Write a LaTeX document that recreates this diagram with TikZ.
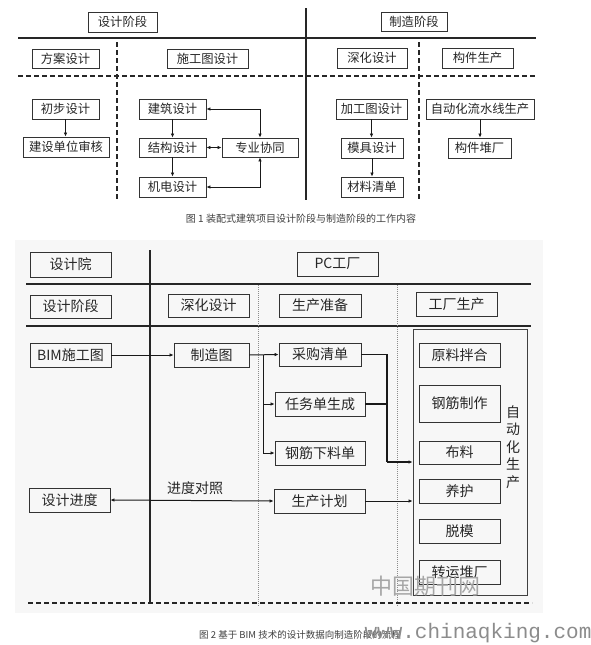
\documentclass[tikz,border=0pt]{standalone}
\usepackage{fontspec}
\setmainfont{Noto Sans CJK SC}
\newfontfamily\wmmono{Liberation Mono}
\usetikzlibrary{arrows.meta}
\newcommand{\bx}[7][]{\node[box,#1,minimum width={(#4-#2)*1pt},minimum height={(#5-#3)*1pt}] (#7) at ({(#2+#4)/2},{(#3+#5)/2}) {#6};}
\begin{document}
\begin{tikzpicture}[x=1pt,y=-1pt,
  box/.style={draw=black!80,line width=0.9pt,inner sep=0pt,text=black!85,font=\fontsize{12.3}{14}\selectfont},
  boxb/.style={font=\fontsize{14}{16}\selectfont},
  sline/.style={line width=1.3pt,black!85},
  dline/.style={line width=1.3pt,black!85,dash pattern=on 5pt off 3pt},
  gdot/.style={line width=0.6pt,black!45,dash pattern=on 1pt off 1pt},
  conn/.style={line width=1pt,black!90},
  arr/.style={conn,-{Latex[length=4pt,width=3.6pt]}},
  darr/.style={conn,{Latex[length=4pt,width=3.6pt]}-{Latex[length=4pt,width=3.6pt]}},
  captext/.style={text=black!75,inner sep=0pt}]
\useasboundingbox (0,0) rectangle (591,645);
\fill[white] (0,0) rectangle (591,645);

% ---------------- Figure 1 ----------------
\bx{88}{12}{157}{32}{设计阶段}{sjjd1}
\bx{381}{12}{447}{31}{制造阶段}{zzjd1}
\draw[sline] (306,8) -- (306,200);
\draw[sline] (18,38) -- (536,38);
\draw[dline] (18,76) -- (536,76);
\draw[dline] (117,42) -- (117,200);
\draw[dline] (419,42) -- (419,200);

\bx{32}{49}{99}{68}{方案设计}{fasj}
\bx{167}{49}{248}{68}{施工图设计}{sgtsj}
\bx{337}{48}{407}{68}{深化设计}{shsj1}
\bx{442}{48}{513}{68}{构件生产}{gjsc}

\bx{32}{99}{99}{119}{初步设计}{cbsj}
\bx{23}{137}{109}{157}{建设单位审核}{jsdw}
\bx{139}{99}{206}{119}{建筑设计}{jzsj}
\bx{139}{138}{206}{157}{结构设计}{jgsj}
\bx{222}{138}{298}{157}{专业协同}{zyxt}
\bx{139}{177}{206}{197}{机电设计}{jdsj}
\bx{336}{99}{407}{119}{加工图设计}{jgt}
\bx{341}{138}{403}{158}{模具设计}{mjsj}
\bx{341}{177}{403}{197}{材料清单}{clqd}
\bx{426}{99}{534}{119}{自动化流水线生产}{zdh}
\bx{448}{138}{511}{158}{构件堆厂}{gjdc}

\draw[arr] (cbsj.south) -- (cbsj.south |- jsdw.north);
\draw[arr] (jzsj.south) -- (jgsj.north);
\draw[arr] (jgsj.south) -- (jdsj.north);
\draw[darr] (jgsj.east) -- (zyxt.west);
\draw[darr] (jzsj.east) -| (zyxt.north);
\draw[darr] (jdsj.east) -| (zyxt.south);
\draw[arr] (jgt.south) -- (jgt.south |- mjsj.north);
\draw[arr] (mjsj.south) -- (mjsj.south |- clqd.north);
\draw[arr] (zdh.south) -- (zdh.south |- gjdc.north);

\node[captext,font=\fontsize{10}{12}\selectfont] (cap1) at (301,219) {图 1 装配式建筑项目设计阶段与制造阶段的工作内容};

% ---------------- Figure 2 ----------------
\fill[black!3] (15,240) rectangle (543,613);
\draw[sline] (150,250) -- (150,603);
\draw[sline] (26,284) -- (531,284);
\draw[sline] (26,326) -- (531,326);
\draw[gdot] (258,285) -- (258,607);
\draw[gdot] (397,285) -- (397,607);
\draw[dline] (28,603) -- (532,603);

\bx[boxb]{30}{252}{111}{277}{设计院}{sjy}
\bx[boxb]{297}{252}{378}{276}{PC工厂}{pcgc}
\bx[boxb]{30}{295}{111}{318}{设计阶段}{sjjd2}
\bx[boxb]{168}{294}{249}{317}{深化设计}{shsj2}
\bx[boxb]{279}{294}{361}{317}{生产准备}{sczb}
\bx[boxb]{416}{292}{497}{316}{工厂生产}{gcsc}

\node[draw=black!75,line width=0.9pt,minimum width=114pt,minimum height=266pt,inner sep=0pt] (big) at (470,462) {};
\bx[boxb]{419}{343}{500}{367}{原料拌合}{ylbh}
\bx[boxb]{419}{385}{500}{422}{钢筋制作}{gjzz}
\bx[boxb]{419}{441}{500}{464}{布料}{bl}
\bx[boxb]{419}{479}{500}{503}{养护}{yh}
\bx[boxb]{419}{519}{500}{543}{脱模}{tm}
\bx[boxb]{419}{560}{500}{584}{转运堆厂}{zydc}
\node[text=black!85,inner sep=0pt,align=center,font=\fontsize{14}{17.5}\selectfont] (zdhsc) at (513,447) {自\\动\\化\\生\\产};

\bx[boxb]{30}{343}{111}{367}{BIM施工图}{bim}
\bx[boxb]{174}{343}{249}{367}{制造图}{zzt}
\bx[boxb]{279}{343}{361}{366}{采购清单}{cgqd}
\bx[boxb]{275}{392}{365}{416}{任务单生成}{rwd}
\bx[boxb]{275}{441}{365}{465}{钢筋下料单}{gjxl}
\bx[boxb]{274}{489}{365}{513}{生产计划}{scjh}
\bx[boxb]{29}{488}{110}{512}{设计进度}{sjjd3}

\draw[arr] (bim.east) -- (zzt.west);
\draw[arr] (zzt.east) -- (cgqd.west);
\coordinate (br) at (263,355);
\draw[arr] (br) |- (rwd.west);
\draw[arr] (br) |- (gjxl.west);
\coordinate (mg) at (387,462);
\draw[conn,line width=1.4pt] (cgqd.east) -| (mg);
\draw[conn,line width=1.4pt] (rwd.east) -- (rwd.east -| mg);
\draw[arr,line width=1.4pt] (mg) -- (big.west |- mg);
\draw[darr] (sjjd3.east) -- (scjh.west);
\node[text=black!85,inner sep=0pt,font=\fontsize{14}{16}\selectfont] (jddz) at (195,488) {进度对照};
\draw[arr] (scjh.east) -- (big.west |- scjh.east);

\node[captext,font=\fontsize{9.5}{12}\selectfont] (cap2) at (300,635) {图 2 基于 BIM 技术的设计数据向制造阶段的流程};

% watermarks
\node[text=black!35,inner sep=0pt,font=\fontsize{22}{24}\selectfont] (wm1) at (425,586) {中国期刊网};
\node[text=black!45,inner sep=0pt,font=\wmmono\fontsize{21}{24}\selectfont] (wm2) at (478,633) {www.chinaqking.com};
\end{tikzpicture}
\end{document}
